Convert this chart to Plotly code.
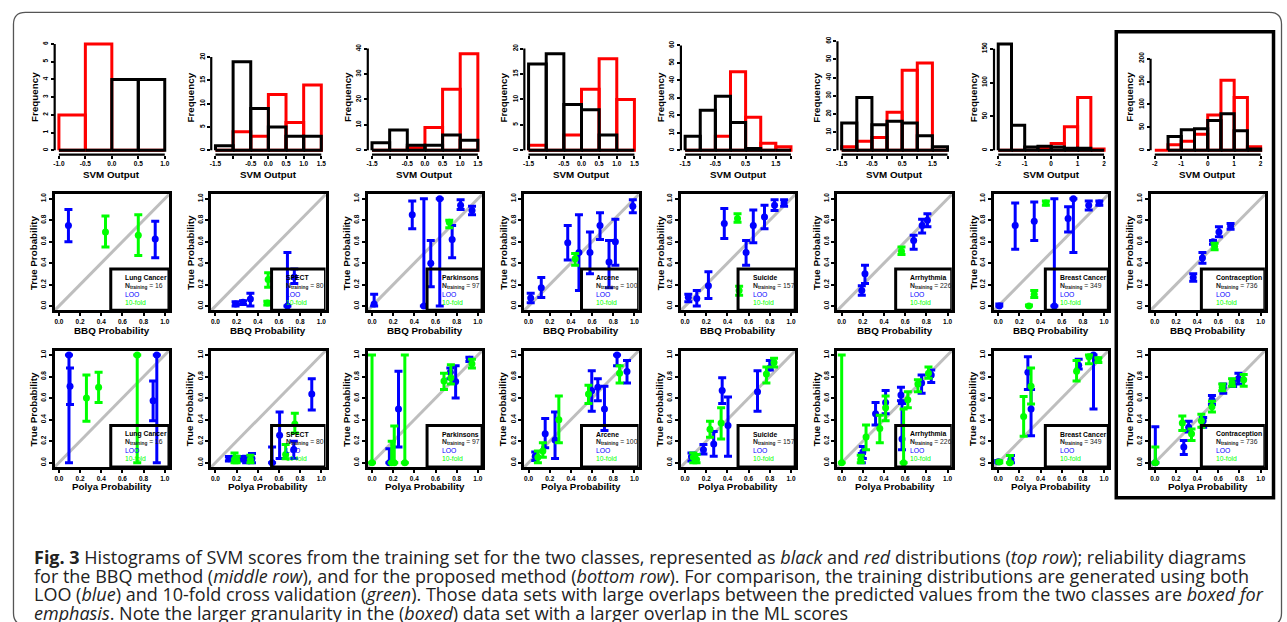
import plotly.graph_objects as go

W, H = 1287, 622

# ---------------- data ----------------
datasets = ["Lung Cancer", "SPECT", "Parkinsons", "Arcene", "Suicide",
            "Arrhythmia", "Breast Cancer", "Contraception"]
n_training = [16, 80, 97, 100, 157, 226, 349, 736]

hist_lo = [-1.0, -1.5, -1.5, -1.5, -1.5, -1.5, -2.0, -2.0]
hist_hi = [1.0, 1.5, 1.5, 1.5, 2.0, 2.0, 2.0, 2.0]
bin_width = 0.5
black_counts = [
    [0, 0, 4, 4],
    [1, 19, 9, 5, 3, 3],
    [3, 8, 2, 2, 6, 4],
    [17, 19, 9, 8, 3, 0],
    [8, 23, 31, 16, 1, 0, 0],
    [15, 29, 14, 16, 15, 8, 2],
    [157, 37, 5, 6, 5, 3, 3, 0],
    [None, 30, 45, 47, 65, 80, 43, 3],
]
red_counts = [
    [2, 6, 0, 0],
    [0, 4, 3, 12, 6, 14],
    [0, 0, 1, 9, 24, 38],
    [1, 0, 3, 12, 18, 10],
    [0, 0, 8, 45, 19, 4, 2],
    [2, 5, 7, 21, 44, 48, 0],
    [0, 0, 0, 3, 10, 35, 78, 2],
    [0, 12, 20, 35, 77, 153, 115, 8],
]
hist_ymax = [6, 22.8, 41.8, 20.9, 60.8, 58.4, 157, 231.8]
hist_yticks = [
    [0, 1, 2, 3, 4, 5, 6],
    [0, 5, 10, 15, 20],
    [0, 10, 20, 30, 40],
    [0, 5, 10, 15, 20],
    [0, 10, 20, 30, 40, 50, 60],
    [0, 10, 20, 30, 40, 50, 60],
    [0, 50, 100, 150],
    [0, 50, 100, 150, 200],
]
hist_xticks = [
    [-1.0, -0.5, 0.0, 0.5, 1.0],
    [-1.5, -0.5, 0.0, 0.5, 1.0, 1.5],
    [-1.5, -0.5, 0.0, 0.5, 1.0, 1.5],
    [-1.5, -0.5, 0.0, 0.5, 1.0, 1.5],
    [-1.5, -0.5, 0.5, 1.5],
    [-1.5, -0.5, 0.5, 1.5],
    [-2, -1, 0, 1, 2],
    [-2, -1, 0, 1, 2],
]
hist_xlabels = [
    ["-1.0", "-0.5", "0.0", "0.5", "1.0"],
    ["-1.5", "-0.5", "0.0", "0.5", "1.0", "1.5"],
    ["-1.5", "-0.5", "0.0", "0.5", "1.0", "1.5"],
    ["-1.5", "-0.5", "0.0", "0.5", "1.0", "1.5"],
    ["-1.5", "-0.5", "0.5", "1.5"],
    ["-1.5", "-0.5", "0.5", "1.5"],
    ["-2", "-1", "0", "1", "2"],
    ["-2", "-1", "0", "1", "2"],
]
hist_xunlabeled = [
    [],
    [-1.0],
    [-1.0],
    [-1.0],
    [-1.0, 0.0, 1.0, 2.0],
    [-1.0, 0.0, 1.0, 2.0],
    [],
    [],
]
prob_ticks = [0.0, 0.2, 0.4, 0.6, 0.8, 1.0]
prob_labels = ["0.0", "0.2", "0.4", "0.6", "0.8", "1.0"]

# reliability points: (predicted, true, low, high)
bbq_loo = [
    [(0.09, 0.75, 0.60, 0.90), (0.91, 0.625, 0.45, 0.79)],
    [(0.19, 0.02, 0.0, 0.04), (0.26, 0.035, 0.015, 0.05), (0.33, 0.065, 0.0, 0.12),
     (0.68, 0.0, 0.0, 0.50), (0.745, 0.27, 0.21, 0.345)],
    [(0.02, 0.02, 0.0, 0.11), (0.38, 0.85, 0.72, 0.98), (0.49, 0.0, 0.0, 1.0),
     (0.555, 0.40, 0.18, 0.61), (0.64, 1.0, 0.0, 1.0), (0.757, 0.62, 0.45, 0.75),
     (0.837, 0.94, 0.90, 0.99), (0.945, 0.89, 0.85, 0.93)],
    [(0.02, 0.074, 0.03, 0.12), (0.12, 0.17, 0.08, 0.265), (0.37, 0.59, 0.43, 0.75),
     (0.476, 0.5, 0.145, 0.85), (0.58, 0.5, 0.30, 0.69), (0.675, 0.75, 0.62, 0.87),
     (0.76, 0.41, 0.17, 0.61), (0.82, 0.60, 0.38, 0.81), (0.985, 0.93, 0.87, 0.99)],
    [(0.03, 0.083, 0.04, 0.11), (0.11, 0.07, 0.0, 0.145), (0.22, 0.19, 0.07, 0.32),
     (0.37, 0.77, 0.63, 0.91), (0.576, 0.50, 0.38, 0.61), (0.644, 0.75, 0.59, 0.895),
     (0.75, 0.83, 0.72, 0.94), (0.845, 0.94, 0.89, 0.99), (0.935, 0.96, 0.93, 0.99)],
    [(0.19, 0.145, 0.10, 0.19), (0.22, 0.30, 0.21, 0.38), (0.68, 0.61, 0.53, 0.66),
     (0.76, 0.75, 0.68, 0.81), (0.81, 0.80, 0.74, 0.86)],
    [(0.01, 0.0, 0.0, 0.02), (0.16, 0.75, 0.53, 0.96), (0.34, 0.79, 0.61, 0.97),
     (0.53, 0.0, 0.0, 1.0), (0.66, 0.815, 0.69, 0.926), (0.71, 1.0, 0.5, 1.0),
     (0.855, 0.94, 0.895, 0.98), (0.955, 0.96, 0.94, 0.98)],
    [(0.363, 0.265, 0.23, 0.30), (0.45, 0.447, 0.40, 0.50), (0.55, 0.60, 0.575, 0.61),
     (0.606, 0.69, 0.645, 0.74), (0.716, 0.747, 0.716, 0.77)],
]
bbq_10fold = [
    [(0.44, 0.69, 0.55, 0.84), (0.75, 0.66, 0.47, 0.85)],
    [(0.49, 0.028, 0.01, 0.045), (0.498, 0.247, 0.176, 0.31)],
    [(0.73, 0.78, 0.73, 0.80)],
    [(0.44, 0.44, 0.38, 0.49)],
    [(0.495, 0.815, 0.78, 0.86), (0.51, 0.145, 0.10, 0.185)],
    [(0.565, 0.51, 0.48, 0.55)],
    [(0.29, 0.0, 0.0, 0.01), (0.34, 0.11, 0.08, 0.145), (0.45, 0.96, 0.94, 0.98)],
    [(0.565, 0.555, 0.525, 0.586)],
]
polya_loo = [
    [(0.095, 1.0, 0.0, 1.0), (0.105, 0.71, 0.54, 0.88), (0.89, 0.575, 0.39, 0.76),
     (0.925, 1.0, 0.0, 1.0)],
    [(0.127, 0.037, 0.017, 0.057), (0.23, 0.037, 0.017, 0.057), (0.29, 0.025, 0.0, 0.06),
     (0.345, 0.04, 0.0, 0.085), (0.535, 0.0, 0.0, 0.145), (0.606, 0.255, 0.04, 0.47),
     (0.74, 0.123, 0.04, 0.20), (0.91, 0.637, 0.49, 0.78)],
    [(0.164, 0.0, 0.0, 0.13), (0.25, 0.50, 0.145, 0.85), (0.74, 0.84, 0.78, 0.88),
     (0.79, 0.755, 0.60, 0.90), (0.92, 0.96, 0.94, 0.98)],
    [(0.063, 0.06, 0.02, 0.10), (0.157, 0.27, 0.14, 0.41), (0.25, 0.21, 0.04, 0.47),
     (0.597, 0.668, 0.477, 0.855), (0.654, 0.70, 0.575, 0.78), (0.717, 0.50, 0.30, 0.71),
     (0.836, 1.0, 0.90, 1.0), (0.93, 0.846, 0.74, 0.95)],
    [(0.06, 0.055, 0.015, 0.09), (0.173, 0.12, 0.08, 0.17), (0.27, 0.175, 0.06, 0.29),
     (0.35, 0.67, 0.55, 0.79), (0.405, 0.345, 0.06, 0.61), (0.684, 0.66, 0.477, 0.855),
     (0.80, 0.88, 0.86, 0.95)],
    [(0.19, 0.05, 0.0, 0.085), (0.2, 0.1, 0.04, 0.15), (0.32, 0.455, 0.35, 0.56),
     (0.415, 0.56, 0.455, 0.67), (0.56, 0.63, 0.575, 0.70), (0.57, 0.22, 0.12, 0.55),
     (0.755, 0.74, 0.646, 0.815), (0.846, 0.815, 0.745, 0.86)],
    [(0.0, 0.01, 0.0, 0.02), (0.12, 0.03, 0.0, 0.068), (0.28, 0.84, 0.68, 0.985),
     (0.31, 0.50, 0.25, 0.68), (0.76, 0.906, 0.87, 0.96), (0.90, 1.0, 0.50, 1.0)],
    [(0.005, 0.0, 0.0, 0.335), (0.274, 0.145, 0.077, 0.206), (0.32, 0.33, 0.286, 0.385),
     (0.457, 0.39, 0.33, 0.42), (0.54, 0.585, 0.54, 0.625), (0.647, 0.70, 0.646, 0.73),
     (0.74, 0.746, 0.707, 0.775), (0.79, 0.78, 0.73, 0.83)],
]
polya_10fold = [
    [(0.26, 0.60, 0.385, 0.815), (0.375, 0.70, 0.56, 0.84), (0.74, 1.0, 0.0, 1.0)],
    [(0.18, 0.03, 0.0, 0.09), (0.2, 0.025, 0.0, 0.06), (0.33, 0.03, 0.0, 0.07),
     (0.663, 0.077, 0.037, 0.17), (0.75, 0.36, 0.275, 0.46)],
    [(0.0, 0.0, 0.0, 1.0), (0.186, 0.0, 0.0, 0.20), (0.21, 0.0, 0.0, 0.34),
     (0.31, 0.0, 0.0, 1.0), (0.68, 0.76, 0.68, 0.83), (0.745, 0.79, 0.73, 0.91),
     (0.944, 0.92, 0.88, 0.96)],
    [(0.088, 0.05, 0.0, 0.11), (0.135, 0.11, 0.05, 0.185), (0.286, 0.40, 0.185, 0.62),
     (0.566, 0.637, 0.55, 0.72), (0.86, 0.83, 0.74, 0.90)],
    [(0.077, 0.05, 0.0, 0.09), (0.108, 0.03, 0.0, 0.077), (0.235, 0.31, 0.237, 0.385),
     (0.34, 0.37, 0.22, 0.51), (0.768, 0.825, 0.74, 0.89), (0.84, 0.93, 0.89, 0.97)],
    [(0.0, 0.0, 0.0, 1.0), (0.18, 0.03, 0.0, 0.07), (0.23, 0.24, 0.12, 0.35),
     (0.36, 0.317, 0.185, 0.44), (0.415, 0.51, 0.39, 0.62), (0.585, 0.0, 0.0, 0.50),
     (0.625, 0.585, 0.51, 0.66), (0.72, 0.73, 0.66, 0.77), (0.82, 0.83, 0.785, 0.89)],
    [(0.01, 0.006, 0.0, 0.015), (0.11, 0.0, 0.0, 0.068), (0.24, 0.43, 0.246, 0.615),
     (0.31, 0.71, 0.545, 0.88), (0.74, 0.85, 0.76, 0.95), (0.857, 0.985, 0.92, 1.0),
     (0.946, 0.955, 0.93, 0.975)],
    [(0.005, 0.0, 0.0, 0.145), (0.26, 0.37, 0.30, 0.434), (0.347, 0.27, 0.206, 0.314),
     (0.44, 0.39, 0.33, 0.45), (0.54, 0.52, 0.47, 0.57), (0.637, 0.70, 0.668, 0.73),
     (0.73, 0.74, 0.71, 0.78), (0.84, 0.77, 0.71, 0.82)],
]

caption_lines = [
    "<b>Fig. 3</b> Histograms of SVM scores from the training set for the two classes, "
    "represented as <i>black</i> and <i>red</i> distributions (<i>top row</i>); reliability diagrams",
    "for the BBQ method (<i>middle row</i>), and for the proposed method (<i>bottom row</i>). "
    "For comparison, the training distributions are generated using both",
    "LOO (<i>blue</i>) and 10-fold cross validation (<i>green</i>). Those data sets with large "
    "overlaps between the predicted values from the two classes are <i>boxed for</i>",
    "<i>emphasis</i>. Note the larger granularity in the (<i>boxed</i>) data set with a larger "
    "overlap in the ML scores",
]

# ---------------- layout constants ----------------
COL_X0 = 58.0
COL_STEP = 156.8
DATA_W = 106.0
PAD = 0.04
ROW_Y = [(40.3, 147.3), (196.0, 304.0), (353.3, 461.7)]
LEG_LEFT = [0.49, 0.53, 0.52, 0.50, 0.50, 0.51, 0.445, 0.44]
LEG_TOP = 0.345
BLUE, GREEN, RED, BLACK, GREY = "#0000FF", "#00FF00", "#FF0000", "#000000", "#BEBEBE"
AX_FONT = "Liberation Sans, Arial, sans-serif"
TICK_FONT = dict(family=AX_FONT, size=6.5, color="black", weight="bold")
TITLE_SIZE = 9.8
CAPTION_Y = [557, 575.7, 594.3, 613]
CAPTION_FONT = "Open Sans, sans-serif"
CAPTION_SIZE = 18.0


def px(xp):
    return xp / W


def py(yp):
    return 1 - yp / H


def ax_suffix(idx):
    return "" if idx == 1 else str(idx)


fig = go.Figure()
layout = dict(width=W, height=H, margin=dict(l=0, r=0, t=0, b=0),
              paper_bgcolor="white", plot_bgcolor="white", showlegend=False)
shapes = []
annotations = []

for row in range(3):
    ytop, ybot = ROW_Y[row]
    hgt = ybot - ytop
    dom_y = [py(ybot + PAD * hgt), py(ytop - PAD * hgt)]
    for col in range(8):
        idx = row * 8 + col + 1
        s = ax_suffix(idx)
        x0 = COL_X0 + COL_STEP * col
        dom_x = [px(x0 - PAD * DATA_W), px(x0 + DATA_W + PAD * DATA_W)]
        xa, ya = f"x{s}", f"y{s}"
        common = dict(showgrid=False, zeroline=False, ticks="outside", ticklen=3,
                      tickwidth=1.8, tickcolor="black", tickfont=TICK_FONT,
                      fixedrange=True)
        if row == 0:
            lo, hi = hist_lo[col], hist_hi[col]
            span = hi - lo
            ymax = hist_ymax[col]
            xax = dict(domain=dom_x, anchor=ya, range=[lo - PAD * span, hi + PAD * span],
                       tickvals=hist_xticks[col], ticktext=hist_xlabels[col],
                       tickangle=0, showline=False, **common)
            if hist_xunlabeled[col]:
                xax["minor"] = dict(tickvals=hist_xunlabeled[col], ticks="outside",
                                    ticklen=3, tickwidth=1.8, tickcolor="black",
                                    showgrid=False)
            layout[f"xaxis{s}"] = xax
            layout[f"yaxis{s}"] = dict(domain=dom_y, anchor=xa,
                                       range=[-PAD * ymax, (1 + PAD) * ymax],
                                       tickvals=hist_yticks[col],
                                       ticktext=[str(v) for v in hist_yticks[col]],
                                       tickangle=-90, showline=False, **common)
            # R-style axis lines spanning the tick range only
            shapes.append(dict(type="line", xref=xa, yref=f"{ya} domain",
                               x0=lo, x1=hi, y0=0, y1=0,
                               line=dict(color="black", width=2.2)))
            shapes.append(dict(type="line", xref=f"{xa} domain", yref=ya,
                               x0=0, x1=0, y0=hist_yticks[col][0], y1=hist_yticks[col][-1],
                               line=dict(color="black", width=2.2)))
            # histogram outlines: red first, then black
            for counts, color in ((red_counts[col], RED), (black_counts[col], BLACK)):
                xs, ys = [], []
                for i, c in enumerate(counts):
                    if c is None:
                        continue
                    a = lo + i * bin_width
                    b = a + bin_width
                    xs += [a, a, b, b, a, None]
                    ys += [0, c, c, 0, 0, None]
                fig.add_trace(go.Scatter(x=xs, y=ys, mode="lines", xaxis=xa, yaxis=ya,
                                         line=dict(color=color, width=3), hoverinfo="skip",
                                         cliponaxis=False))
            xtitle, ytitle = "SVM Output", "Frequency"
        else:
            layout[f"xaxis{s}"] = dict(domain=dom_x, anchor=ya, range=[-PAD, 1 + PAD],
                                       tickvals=prob_ticks, ticktext=prob_labels, tickangle=0,
                                       showline=True, mirror=True, linewidth=3,
                                       linecolor="black", **common)
            layout[f"yaxis{s}"] = dict(domain=dom_y, anchor=xa, range=[-PAD, 1 + PAD],
                                       tickvals=prob_ticks, ticktext=prob_labels,
                                       tickangle=-90, showline=True, mirror=True,
                                       linewidth=3, linecolor="black", **common)
            shapes.append(dict(type="line", xref=f"{xa} domain", yref=f"{ya} domain",
                               x0=0, y0=0, x1=1, y1=1, layer="below",
                               line=dict(color=GREY, width=3)))
            loo = bbq_loo if row == 1 else polya_loo
            kf = bbq_10fold if row == 1 else polya_10fold
            for pts, color in ((loo[col], BLUE), (kf[col], GREEN)):
                xs = [p[0] for p in pts]
                ys = [p[1] for p in pts]
                up = [p[3] - p[1] for p in pts]
                dn = [p[1] - p[2] for p in pts]
                fig.add_trace(go.Scatter(
                    x=xs, y=ys, mode="markers", xaxis=xa, yaxis=ya, cliponaxis=False,
                    marker=dict(color=color, size=7),
                    error_y=dict(type="data", symmetric=False, array=up, arrayminus=dn,
                                 color=color, thickness=3, width=4),
                    hoverinfo="skip"))
            # legend box
            ll = LEG_LEFT[col]
            shapes.append(dict(type="rect", xref=xa, yref=ya, x0=ll, x1=1 + PAD,
                               y0=-PAD, y1=LEG_TOP, line=dict(color="black", width=3)))
            tx = ll + 0.12
            leg_items = [
                (0.265, f"<b>{datasets[col]}</b>", "black"),
                (0.19, f"<b>N<sub>training</sub></b> = {n_training[col]}", "#222222"),
                (0.11, "LOO", BLUE),
                (0.035, "10-fold", GREEN),
            ]
            for yy, txt, c in leg_items:
                annotations.append(dict(xref=xa, yref=ya, x=tx, y=yy, text=txt,
                                        showarrow=False, xanchor="left", yanchor="middle",
                                        font=dict(family=AX_FONT, size=6.8, color=c)))
            xtitle = "BBQ Probability" if row == 1 else "Polya Probability"
            ytitle = "True Probability"
        # axis titles
        annotations.append(dict(xref=f"{xa} domain", yref="paper", x=0.5,
                                y=py(ybot + PAD * hgt + 20), text=f"<b>{xtitle}</b>",
                                showarrow=False, xanchor="center", yanchor="middle",
                                font=dict(family=AX_FONT, size=TITLE_SIZE, color="black")))
        annotations.append(dict(xref="paper", yref=f"{ya} domain",
                                x=px(x0 - PAD * DATA_W - 21), y=0.5, textangle=-90,
                                text=f"<b>{ytitle}</b>", showarrow=False,
                                xanchor="center", yanchor="middle",
                                font=dict(family=AX_FONT, size=TITLE_SIZE, color="black")))

# box highlighting the overlapping data set (last column)
shapes.append(dict(type="rect", xref="paper", yref="paper", x0=px(1117), x1=px(1274.5),
                   y0=py(497), y1=py(28), line=dict(color="black", width=3.5)))
# rounded outer frame
r = 12
x_l, x_r, y_t, y_b = 12.5, 1282.5, 8.5, 625
path = (f"M {px(x_l + r)},{py(y_t)} L {px(x_r - r)},{py(y_t)} "
        f"Q {px(x_r)},{py(y_t)} {px(x_r)},{py(y_t + r)} "
        f"L {px(x_r)},{py(y_b - r)} Q {px(x_r)},{py(y_b)} {px(x_r - r)},{py(y_b)} "
        f"L {px(x_l + r)},{py(y_b)} Q {px(x_l)},{py(y_b)} {px(x_l)},{py(y_b - r)} "
        f"L {px(x_l)},{py(y_t + r)} Q {px(x_l)},{py(y_t)} {px(x_l + r)},{py(y_t)} Z")
shapes.append(dict(type="path", xref="paper", yref="paper", path=path,
                   line=dict(color="#555555", width=1.3)))

for yy, txt in zip(CAPTION_Y, caption_lines):
    annotations.append(dict(xref="paper", yref="paper", x=px(31), y=py(yy), text=txt,
                            showarrow=False, xanchor="left", yanchor="middle", align="left",
                            font=dict(family=CAPTION_FONT, size=CAPTION_SIZE, color="#222222")))

layout["shapes"] = shapes
layout["annotations"] = annotations
fig.update_layout(**layout)
fig.write_html("out.html", config={"displayModeBar": False},
               post_script="document.body.style.margin='0';"
                           "document.body.style.overflow='hidden';"
                           "document.documentElement.style.overflow='hidden';")
